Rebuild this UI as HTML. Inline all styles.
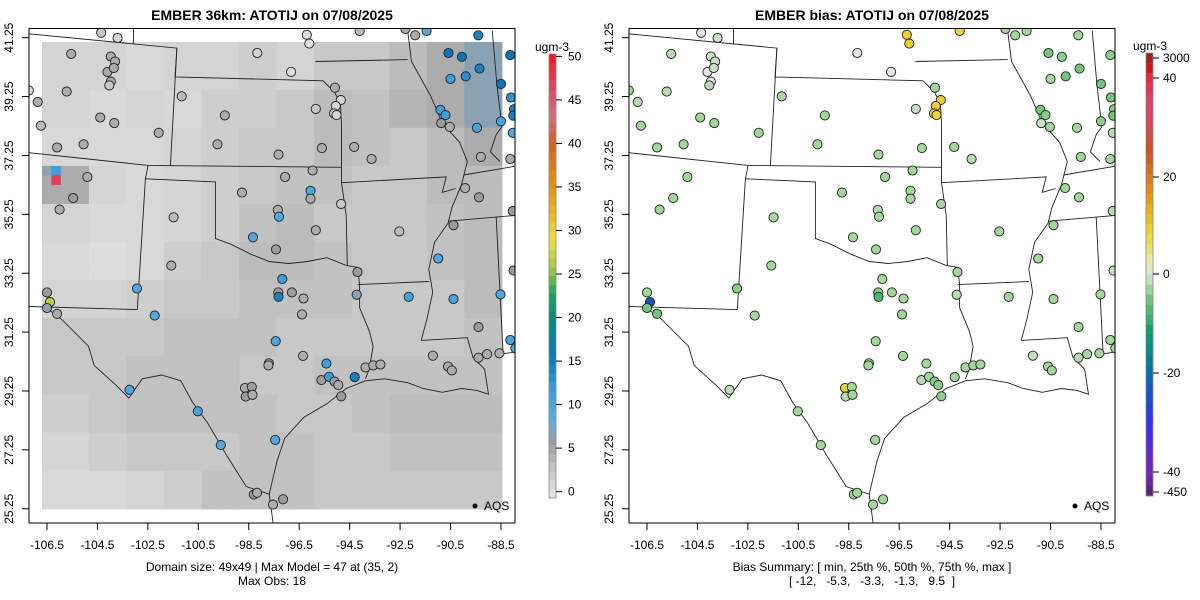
<!DOCTYPE html>
<html><head><meta charset="utf-8">
<style>
body{margin:0;background:#fff;}
svg{display:block;font-family:"Liberation Sans",sans-serif;}
.pre{white-space:pre;}
</style></head>
<body>
<svg id="chart" width="1200" height="600" viewBox="0 0 1200 600"></svg>
<script>
// ---- data ----
const xTicks = [-106.5,-104.5,-102.5,-100.5,-98.5,-96.5,-94.5,-92.5,-90.5,-88.5];
const yTicks = [41.25,39.25,37.25,35.25,33.25,31.25,29.25,27.25,25.25];
const leftBarTicks = [0,5,10,15,20,25,30,35,40,45,50];
const rightBarLabels = ["3000","40","20","0","-20","-40","-450"];
const rightBarValues = [60,40,20,0,-20,-40,-60];
// coarse model field (12x12, north->south, west->east)
const modelField = [
[2,2,1.5,2,2,2.5,2,3,3,4,5,7],
[2,1.5,2,1.5,2.5,2.5,3,4,3.5,4.5,5,7],
[1.5,1.5,1.5,2,2.5,3,3,4,3.5,3,4,5],
[5,2,1.5,2,2.5,3,3.5,3.5,3,3,4,4],
[2,1.5,1.5,2,2.5,3.5,4,3,3,3,3.5,4],
[1.5,1,1.5,2.5,3,4,4,3.5,3,3,3.5,4],
[2,2,2.5,3,3,3.5,3.5,3.5,3,3,3,4],
[3,3,3,3.5,3.5,3.5,3,3,3,3,3,3.5],
[3,3,3.5,3.5,3.5,3,3,3.5,3.5,3.5,3.5,3.5],
[2.5,3,3.5,3.5,3.5,3.5,3,3,3.5,4,4,4],
[2,2.5,3,3,3,3.5,3.5,3,3,3.5,3.5,3.5],
[1.5,1.5,2,2.5,3.5,3.5,3.5,3,3,3,3,3]];
const hotCells = [[1,14,47],[1,13,12],[0,13,7]];
const siteLon = [-104.35,-103.7,-105.54,-103.97,-103.8,-104.1,-103.85,-103.97,-104.03,-105.72,-106.87,-106.74,-104.39,-103.83,-102.07,-106.1,-105.05,-104.9,-105.46,-106.0,-106.5,-106.38,-106.5,-106.1,-102.93,-102.23,-101.57,-101.48,-101.16,-99.45,-99.74,-98.16,-96.82,-96.2,-96.1,-94.1,-92.29,-91.9,-91.45,-89.4,-90.58,-90.05,-89.35,-90.5,-89.9,-88.5,-88.13,-88.1,-87.98,-88.01,-88.5,-88.03,-89.45,-90.53,-90.9,-90.7,-90.87,-89.3,-88.13,-95.08,-94.85,-95.05,-95.12,-95.02,-95.84,-95.6,-94.32,-93.63,-97.32,-95.97,-97.06,-96.05,-96.05,-98.77,-97.35,-97.3,-94.84,-95.84,-98.33,-97.42,-92.53,-89.92,-89.37,-88.03,-90.38,-90.99,-94.19,-94.22,-97.17,-97.33,-97.32,-96.79,-96.33,-96.39,-97.43,-97.7,-97.72,-96.35,-95.42,-95.62,-95.32,-95.1,-94.95,-94.83,-94.3,-93.87,-93.56,-93.28,-92.16,-90.38,-88.52,-89.39,-88.13,-87.93,-88.56,-89.05,-89.39,-90.6,-90.45,-91.2,-88.0,-98.65,-98.38,-98.62,-98.35,-103.23,-100.52,-99.61,-97.45,-98.3,-98.17,-97.54,-97.14,-107.22];
const siteLat = [41.42,41.24,40.7,40.61,40.44,40.09,40.22,39.76,39.63,39.42,39.07,38.26,38.54,38.35,38.02,37.52,37.63,36.52,35.8,35.41,32.6,32.27,32.07,31.87,32.73,31.81,33.51,35.15,39.26,38.61,37.63,40.73,40.09,41.35,41.05,41.48,41.55,41.33,41.48,41.33,40.73,40.6,40.2,39.85,39.94,39.68,40.66,39.22,38.82,38.6,38.41,38.02,38.19,38.22,38.8,38.62,38.35,37.2,37.13,39.55,39.13,38.93,38.68,38.62,38.83,37.5,37.54,37.13,37.28,36.74,36.52,36.05,35.78,35.99,35.4,35.17,35.6,34.71,34.47,34.06,34.67,36.14,35.83,35.36,34.88,33.75,33.29,32.52,33.05,32.6,32.45,32.6,32.39,31.85,30.94,30.19,30.12,30.44,30.18,29.62,29.73,29.57,29.45,29.07,29.72,30.05,30.12,30.15,32.45,32.37,32.53,31.42,30.98,30.7,30.53,30.5,30.38,30.08,29.95,30.45,33.34,29.35,29.39,29.06,29.12,29.29,28.56,27.41,27.59,25.73,25.79,25.39,25.57,39.46];
const siteObs = [3,2,5,5,5,5,5,5,3,5,5,4,5,5,5,5,5,5,6,5,6,27,7,5,10,10,5,4,4,5,5,2,1,1,1,4,5,5,10,15,16,16,15,12,14,16,16,13,15,15,11,10,11,5,12,12,6,5,5,5,2,2,3,2,3,5,5,5,5,5,5,10,5,5,5,10,3,5,10,6,4,5,6,6,6,10,6,7,12,6,15,6,5,5,10,6,5,5,12,6,12,6,5,6,15,5,5,5,11,11,10,6,11,10,5,5,5,5,5,5,6,5,6,6,5,10,11,10,10,6,5,5,6,1];
const siteBias = [0,-1,-2,-1,-1,0,-1,0,-2,-2,-2,-3,-3,-3,-3,-3,-3,-3,-3,-3,-3,-25,-5,-5,-4,-3,-3,-3,-3,-3,-3,0,0,9,9,8,-3,-3,-3,-3,-5,-4,-5,-3,-5,-5,-4,-5,-4,-5,-4,-2,-3,-3,-5,-4,-1,-3,-3,-3,9,9,9,8,-1,-3,-3,-2,-3,-3,-3,-3,-3,-3,-2,-3,-3,-3,-3,-3,-3,-3,-3,-2,-3,-3,-3,-2,-3,-4,-8,-3,-3,-3,-3,-3,-3,-3,-3,-2,-3,-4,-4,-4,-3,-3,-3,-3,-3,-3,-3,-3,-3,-3,-3,-3,-2,-3,-3,-1,-1,9,-3,-2,-3,-2,-3,-3,-3,-3,-3,-3,-3,-3,-3,-3,-1];
</script>
<script>
const NS="http://www.w3.org/2000/svg";
const svg=document.getElementById('chart');
function mk(tag,attrs,parent){const e=document.createElementNS(NS,tag);for(const k in attrs)e.setAttribute(k,attrs[k]);(parent||svg).appendChild(e);return e;}
function xs(lon,ox){return ox+47+(lon+106.5)*25.22;}
function ys(lat){return 37.7+(41.25-lat)*29.44;}
function zx(z,ox){return ox+z/2.6;}
function zy(z){return z/2.6;}
function hex(c){return [parseInt(c.slice(1,3),16),parseInt(c.slice(3,5),16),parseInt(c.slice(5,7),16)];}
function interp(stops,v){if(v<=stops[0][0])return stops[0][1];for(let i=1;i<stops.length;i++){if(v<=stops[i][0]){const a=stops[i-1],b=stops[i];const t=(v-a[0])/(b[0]-a[0]);const A=hex(a[1]),B=hex(b[1]);return 'rgb('+A.map((x,j)=>Math.round(x+(B[j]-x)*t)).join(',')+')';}}return stops[stops.length-1][1];}
const modelStops=[[0,'#e5e5e5'],[2,'#d4d4d4'],[4,'#bcbcbc'],[6,'#9c9c9c'],[7,'#8aa3b3'],[9,'#5aade0'],[12,'#3a9fdf'],[16,'#0a78b8'],[20,'#008a80'],[23,'#20a060'],[26,'#a8c840'],[29,'#eee040'],[32,'#e8b820'],[36,'#e08a10'],[40,'#d46020'],[43,'#d07080'],[46,'#e04a68'],[50,'#ff1020']];
const biasStops=[[-60,'#602080'],[-40,'#8020c0'],[-30,'#3030f0'],[-20,'#0070b0'],[-12,'#00a070'],[-8,'#40b870'],[-5,'#70c878'],[-3,'#a0d898'],[-1,'#c8e0c4'],[0,'#e5e5e5'],[3,'#ece8a0'],[8,'#f0d830'],[15,'#e8a010'],[25,'#d05020'],[35,'#e04070'],[45,'#f01010'],[60,'#a02020']];

const borders=[
[[75,88],[460,125],[455,200],[840,210],[855,225],[870,240],[885,270],[888,320],[888,435]],
[[347,75],[347,115]],
[[75,397],[385,430],[888,435]],
[[460,125],[443,430]],
[[385,430],[378,465],[357,805]],
[[75,797],[357,805]],
[[378,465],[560,473],[560,620],[600,635],[650,660],[700,680],[750,685],[800,680],[850,670],[900,690],[930,695]],
[[930,695],[935,740],[935,800],[960,860],[970,900],[960,960],[950,985]],
[[888,435],[888,475],[900,560],[903,690]],
[[888,475],[1160,460],[1150,500],[1185,490]],
[[930,740],[1115,732]],
[[1060,80],[1070,160],[1120,250],[1150,320],[1195,370],[1215,420],[1200,480],[1175,540],[1165,580],[1130,630],[1115,700],[1125,760],[1110,830],[1095,885]],
[[1095,885],[1215,878],[1230,930]],
[[1290,565],[1300,760],[1308,920],[1340,915]],
[[1165,575],[1340,560]],
[[1205,455],[1340,432]],
[[820,160],[1060,155]],
[[1280,80],[1292,220],[1305,330],[1290,350],[1275,395],[1300,420]],
[[120,800],[160,830],[230,900],[245,950],[300,1000],[335,1035],[370,985],[420,975],[470,990],[500,1045],[540,1100],[590,1185],[640,1265],[700,1285],[720,1200],[740,1140],[790,1085],[850,1050],[900,1010],[950,990],[1000,985],[1060,995],[1100,1010],[1150,1020],[1200,1010],[1240,1015],[1270,1025],[1260,960],[1240,940]],
[[700,1285],[710,1360]]
];

function panel(ox,isBias){
  const g=mk('g',{});
  
  
  if(!isBias){
    const hg=mk('g',{},g);
    
    
    const x0=ox+42,y0=42,cw=460/49,ch=467/49;
    for(let r=0;r<49;r++)for(let c=0;c<49;c++){
      let v=modelField[Math.floor(r*12/49)][Math.floor(c*12/49)];
      for(const h of hotCells)if(h[0]===c&&h[1]===r)v=h[2];
      const rc=mk('rect',{x:(x0+c*cw).toFixed(2),y:(y0+r*ch).toFixed(2),width:(cw+0.4).toFixed(2),height:(ch+0.4).toFixed(2),fill:interp(modelStops,v)},hg);
      
      
    }
  }
  const bg=mk('g',{fill:'none',stroke:'#222','stroke-width':0.9},g);
  
  
  for(const l of borders){mk('polyline',{points:l.map(p=>zx(p[0],ox).toFixed(1)+','+zy(p[1]).toFixed(1)).join(' ')},bg);}
  const sg=mk('g',{},g);
  
  
  for(let i=0;i<siteLon.length;i++){
    const col=isBias?interp(biasStops,siteBias[i]):interp(modelStops,siteObs[i]);
    const c=mk('circle',{cx:xs(siteLon[i],ox).toFixed(1),cy:ys(siteLat[i]).toFixed(1),r:4.6,fill:col,stroke:'#222','stroke-width':0.9},sg);
    
    
  }
  mk('path',{d:`M${ox} 0h600v600h-600z M${ox+29} 28.5v494.5h486v-494.5z`,fill:'#fff','fill-rule':'evenodd'},g);
  const fr=mk('rect',{x:ox+29,y:28.5,width:486,height:494.5,fill:'none',stroke:'#000','stroke-width':1},g);
  
  
  for(const t of xTicks){const x=xs(t,ox);mk('line',{x1:x,x2:x,y1:523,y2:530,stroke:'#000'},g);
    const tx=mk('text',{x:x,y:549,'font-size':12,'text-anchor':'middle'},g);tx.textContent=t.toFixed(1);
    }
  for(const t of yTicks){const y=ys(t);mk('line',{x1:ox+22,x2:ox+29,y1:y,y2:y,stroke:'#000'},g);
    const tx=mk('text',{x:0,y:0,'font-size':12,'text-anchor':'middle',transform:`translate(${ox+13},${y}) rotate(-90)`},g);tx.textContent=t.toFixed(2);
    }
  const ti=mk('text',{x:ox+272,y:20,'font-size':14,'font-weight':'bold','text-anchor':'middle'},g);
  ti.textContent=isBias?'EMBER bias: ATOTIJ on 07/08/2025':'EMBER 36km: ATOTIJ on 07/08/2025';
  
  const ld=mk('circle',{cx:ox+475,cy:506,r:2.5,fill:'#000'},g);
  
  const lt=mk('text',{x:ox+484,y:510,'font-size':12},g);lt.textContent='AQS';
  
  const lines=isBias?['Bias Summary: [ min, 25th %, 50th %, 75th %, max ]','[ -12,   -5.3,   -3.3,   -1.3,   9.5  ]']:['Domain size: 49x49 | Max Model = 47 at (35, 2)','Max Obs: 18'];
  lines.forEach((s,i)=>{const t=mk('text',{x:ox+272,y:571+i*14,'font-size':12,'text-anchor':'middle','class':'pre'},g);t.textContent=s;
    });
}
panel(0,false);
panel(600,true);

(function(){
  const g=mk('g',{});
  
  const top=54,bot=498,x=549,w=7,n=50;
  for(let i=0;i<n;i++){const v=i+0.5;const y=bot-(i+1)*(bot-top)/n;
    mk('rect',{x:x,y:y,width:w,height:(bot-top)/n+0.3,fill:interp(modelStops,v)},g);}
  mk('rect',{x:x,y:top,width:w,height:bot-top,fill:'none',stroke:'#888','stroke-width':0.8},g);
  for(const t of leftBarTicks){const y=bot-(t+0.5)/51*(bot-top)-2;
    mk('line',{x1:x+w,x2:x+w+6,y1:y,y2:y,stroke:'#000'},g);
    const tx=mk('text',{x:x+w+12,y:y+4,'font-size':12},g);tx.textContent=t;
    }
  const u=mk('text',{x:552,y:51,'font-size':12,'text-anchor':'middle'},g);u.textContent='ugm-3';
  
})();
(function(){
  const g=mk('g',{});
  
  const top=53,bot=496,x=1146,w=7,n=44;
  const ylab=[58,78,177,274,373,472,492];
  function valAt(y){for(let i=1;i<ylab.length;i++){if(y<=ylab[i]){const t=(y-ylab[i-1])/(ylab[i]-ylab[i-1]);return rightBarValues[i-1]+(rightBarValues[i]-rightBarValues[i-1])*t;}}return rightBarValues[rightBarValues.length-1];}
  for(let i=0;i<n;i++){const y=top+i*(bot-top)/n;const v=valAt(Math.max(58,y+(bot-top)/n/2));
    mk('rect',{x:x,y:y,width:w,height:(bot-top)/n+0.3,fill:interp(biasStops,v)},g);}
  mk('rect',{x:x,y:top,width:w,height:bot-top,fill:'none',stroke:'#888','stroke-width':0.8},g);
  rightBarLabels.forEach((s,i)=>{const y=ylab[i];
    mk('line',{x1:x+w,x2:x+w+6,y1:y,y2:y,stroke:'#000'},g);
    const tx=mk('text',{x:x+w+10,y:y+4,'font-size':12},g);tx.textContent=s;
    });
  const u=mk('text',{x:1150,y:50,'font-size':12,'text-anchor':'middle'},g);u.textContent='ugm-3';
  
})();
</script>
</body></html>
